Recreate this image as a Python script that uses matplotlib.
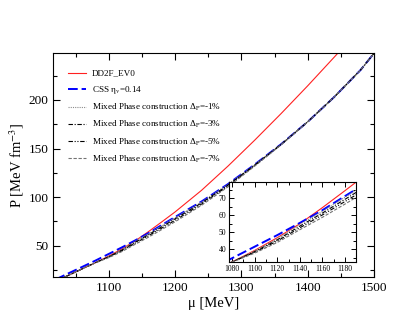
import numpy as np
import matplotlib
matplotlib.use("Agg")
import matplotlib.pyplot as plt
from matplotlib.ticker import MultipleLocator

plt.rcParams['font.family'] = ['Liberation Serif', 'DejaVu Serif']
plt.rcParams['mathtext.fontset'] = 'stix'

# chemical potential grid [MeV]
mu = [1020, 1040, 1060, 1080, 1100, 1120, 1140, 1160, 1180, 1200,
      1240, 1280, 1320, 1360, 1400, 1440, 1480, 1500]

# hadronic EoS (DD2F_EV0), runs out of the frame above ~1450 MeV
mu_had = [1020, 1040, 1060, 1080, 1100, 1120, 1140, 1160, 1180, 1200,
          1240, 1280, 1320, 1360, 1400, 1440, 1460]
p_had = [13.3, 19.8, 26.2, 32.5, 39.3, 46.8, 55.0, 64.5, 74.5, 84.7,
         107.0, 132.0, 158.5, 186.0, 214.5, 244.0, 259.0]

# CSS quark EoS
p_css = [15.3, 21.8, 28.2, 34.7, 41.5, 48.3, 55.5, 63.0, 71.3, 79.5,
         95.5, 113.5, 133.5, 154.5, 177.5, 203.0, 231.0, 248.0]

# mixed phase constructions
p_mp1 = [13.3, 19.8, 26.2, 32.5, 39.0, 46.2, 54.6, 62.3, 70.6, 78.8,
         94.9, 113.1, 133.3, 154.5, 177.5, 203.0, 231.0, 248.0]
p_mp3 = [13.3, 19.8, 26.2, 32.5, 38.6, 45.5, 53.6, 61.3, 69.4, 77.6,
         94.0, 112.4, 132.9, 154.3, 177.5, 203.0, 231.0, 248.0]
p_mp5 = [13.3, 19.8, 26.2, 32.5, 38.2, 44.8, 52.6, 60.2, 68.1, 76.1,
         92.8, 111.5, 132.4, 154.1, 177.4, 203.0, 231.0, 248.0]
p_mp7 = [13.3, 19.8, 26.2, 32.4, 37.7, 44.0, 51.5, 58.8, 66.6, 74.6,
         91.6, 110.6, 131.8, 153.8, 177.3, 203.0, 231.0, 248.0]

mp_labels = ['-1%', '-3%', '-5%', '-7%']
mp_styles = [dict(color='0.55', ls=(0, (1, 1))),
             dict(color='black', ls=(0, (4, 1.5, 1, 1.5))),
             dict(color='black', ls=(0, (4, 1.5, 1, 1.5, 1, 1.5))),
             dict(color='0.45', ls=(0, (3, 1.5)))]


def draw(ax):
    ax.plot(mu_had, p_had, color='#ff2020', lw=0.8, label='DD2F_EV0')
    ax.plot(mu, p_css, color='blue', lw=1.4, ls=(0, (5, 2)),
            label=r'CSS η$_{\rm v}$=0.14')
    for p, lab, st in zip([p_mp1, p_mp3, p_mp5, p_mp7], mp_labels, mp_styles):
        ax.plot(mu, p, lw=0.8,
                label=r'Mixed Phase construction Δ$_{\rm P}$=' + lab, **st)


fig = plt.figure(figsize=(4.15, 3.21), dpi=100)
ax = fig.add_axes([0.1284, 0.1361, 0.7728, 0.6979])
draw(ax)
ax.set_xlim(1016.5, 1500)
ax.set_ylim(17.5, 248)
ax.xaxis.set_major_locator(MultipleLocator(100))
ax.xaxis.set_minor_locator(MultipleLocator(50))
ax.yaxis.set_major_locator(MultipleLocator(50))
ax.yaxis.set_minor_locator(MultipleLocator(25))
ax.tick_params(which='both', direction='in', top=True, right=True, labelsize=9.5)
ax.tick_params(which='major', length=5, width=0.8)
ax.tick_params(which='minor', length=3, width=0.8)
ax.set_xlabel('μ [MeV]', fontsize=10.5, labelpad=2)
ax.set_ylabel(r'P [MeV fm$^{-3}$]', fontsize=10.5, labelpad=2)
ax.legend(loc='upper left', frameon=False, fontsize=6.6, handlelength=2.0,
          handletextpad=0.6, labelspacing=0.66, borderaxespad=0.5,
          bbox_to_anchor=(0.02, 0.965))

# inset zoom around the transition
axin = fig.add_axes([0.5525, 0.1838, 0.3053, 0.2483])
draw(axin)
axin.set_xlim(1077.6, 1189.7)
axin.set_ylim(32.5, 79.4)
axin.xaxis.set_major_locator(MultipleLocator(20))
axin.xaxis.set_minor_locator(MultipleLocator(10))
axin.yaxis.set_major_locator(MultipleLocator(10))
axin.yaxis.set_minor_locator(MultipleLocator(5))
axin.tick_params(which='both', direction='in', top=True, right=True,
                 labelsize=5.5, pad=2)
axin.tick_params(which='major', length=3.5, width=0.7)
axin.tick_params(which='minor', length=2, width=0.7)

plt.savefig('out.png', dpi=100)
